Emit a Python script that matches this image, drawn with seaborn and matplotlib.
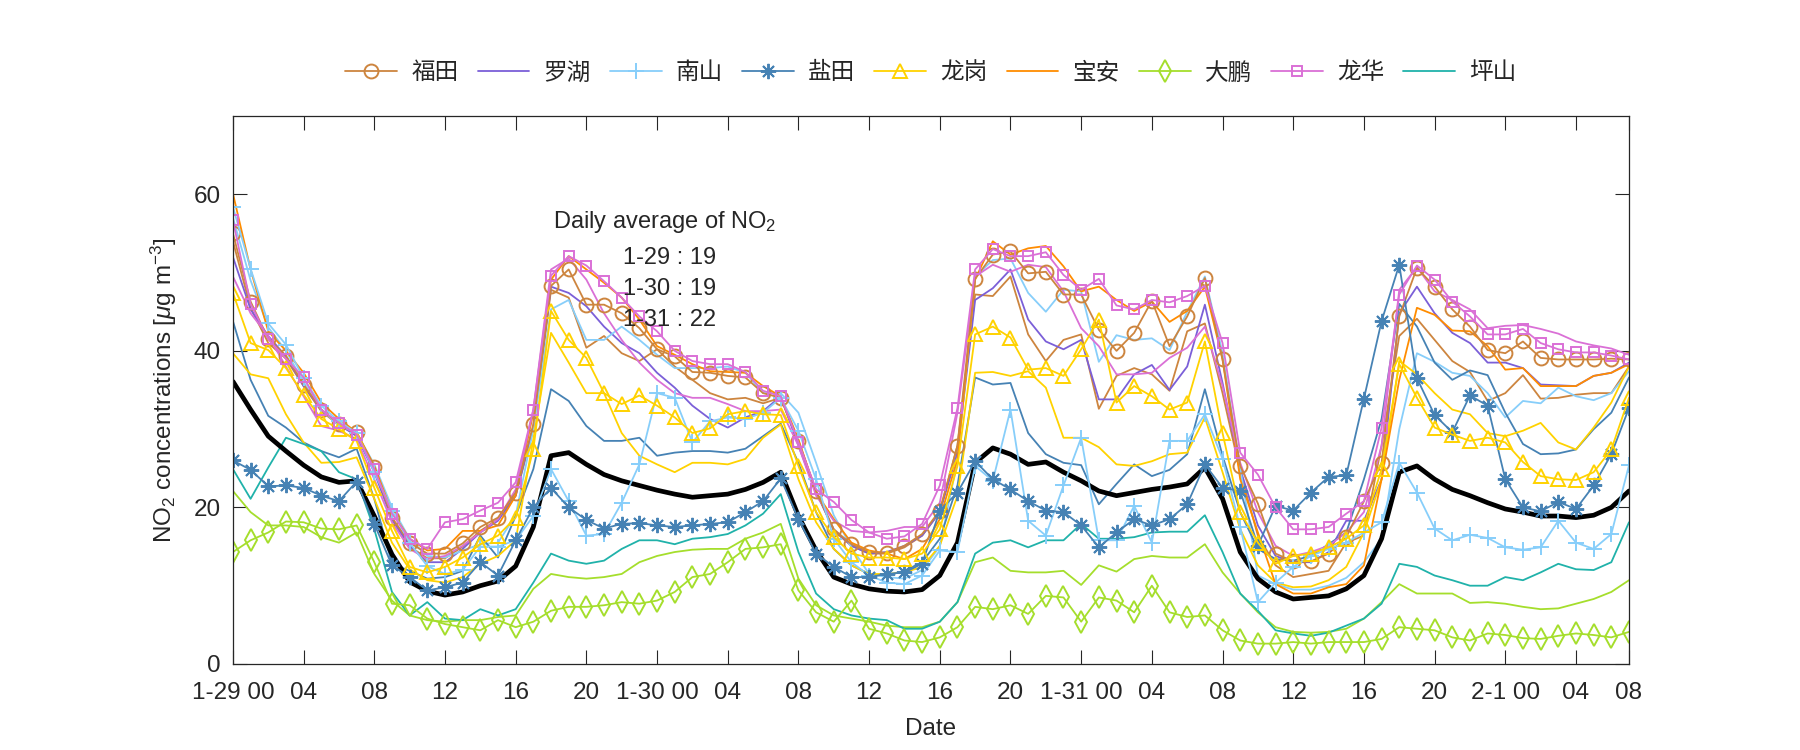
import numpy as np
import matplotlib
matplotlib.use("Agg")
import matplotlib.pyplot as plt
import seaborn as sns

# hourly NO2, 1-29 00:00 ... 2-1 07:00 (80 values each)
hours = list(range(80))

futian_1 = [55.0, 46.3, 41.5, 39.4, 35.7, 32.5, 30.7, 29.6, 25.1, 18.7,
            15.5, 14.1, 14.1, 15.4, 17.5, 18.7, 21.9, 30.6, 48.3, 50.4,
            45.9, 45.9, 44.8, 42.9, 40.2, 39.3, 37.3, 37.2, 36.8, 36.6,
            34.6, 34.0, 28.5, 22.1, 17.2, 15.3, 14.3, 14.2, 15.1, 16.6,
            19.6, 27.9, 49.2, 52.3, 52.7, 49.9, 50.1, 47.2, 47.2, 42.7,
            40.0, 42.3, 46.4, 40.6, 44.4, 49.3, 38.9, 25.3, 20.5, 14.1,
            13.1, 13.1, 14.1, 16.2, 20.8, 25.7, 44.4, 50.6, 48.2, 45.3,
            43.1, 40.1, 39.7, 41.2, 39.1, 38.9, 38.9, 38.9, 39.0, 38.9]
futian_2 = [54.0, 45.5, 41.0, 39.0, 35.5, 32.3, 30.5, 29.3, 24.8, 18.5,
            15.0, 13.5, 13.5, 15.0, 17.0, 18.5, 21.5, 30.0, 47.8, 46.8,
            40.4, 41.9, 39.7, 38.7, 40.2, 38.0, 36.3, 34.6, 33.8, 34.0,
            33.3, 34.0, 28.3, 22.1, 17.0, 15.1, 14.1, 14.1, 14.9, 16.4,
            19.4, 27.9, 47.2, 47.0, 49.5, 42.1, 38.7, 41.4, 42.1, 32.6,
            36.8, 37.8, 37.0, 34.9, 42.5, 43.5, 34.6, 24.5, 16.4, 12.6,
            11.1, 11.5, 11.9, 15.5, 16.4, 27.9, 41.9, 44.1, 41.4, 38.7,
            37.3, 33.6, 34.6, 36.9, 33.9, 34.0, 34.4, 34.6, 34.6, 38.0]
luohu = [52.0, 45.3, 41.9, 39.3, 35.5, 32.5, 30.6, 29.1, 24.5, 18.5,
         15.1, 13.0, 13.0, 14.7, 16.8, 18.3, 21.5, 30.4, 48.2, 47.4,
         45.7, 43.1, 41.0, 39.7, 37.2, 35.3, 33.0, 31.3, 30.2, 31.5,
         32.3, 34.2, 27.9, 21.9, 17.2, 15.1, 14.1, 14.3, 15.1, 16.4,
         19.4, 27.0, 46.5, 48.0, 50.4, 44.0, 41.2, 40.2, 41.4, 33.8,
         33.8, 37.0, 38.2, 35.0, 38.0, 45.9, 35.9, 24.9, 17.7, 13.8,
         13.0, 13.0, 14.3, 18.3, 18.3, 23.6, 44.8, 48.2, 44.8, 42.3,
         41.0, 38.5, 38.5, 37.8, 35.7, 35.6, 35.5, 36.8, 37.2, 38.5]
nanshan_1 = [58.4, 50.5, 43.5, 40.8, 36.5, 33.0, 31.0, 29.5, 24.5, 19.6,
             15.5, 12.5, 11.5, 12.0, 15.0, 15.0, 15.8, 18.9, 24.9, 20.8,
             16.4, 16.6, 20.6, 25.5, 34.6, 34.0, 28.3, 31.0, 31.5, 31.3,
             32.1, 34.0, 29.8, 23.6, 16.0, 13.0, 11.3, 10.4, 10.2, 11.3,
             14.5, 14.3, 25.3, 23.4, 32.5, 18.3, 16.4, 22.8, 28.9, 15.8,
             15.8, 20.2, 15.5, 28.5, 28.5, 31.9, 26.2, 17.5, 7.9, 10.4,
             12.4, 13.8, 14.7, 15.5, 16.8, 18.1, 25.7, 21.9, 17.3, 15.8,
             16.5, 16.1, 14.9, 14.6, 14.9, 18.3, 15.5, 14.7, 16.6, 25.4]
nanshan_2 = [57.0, 49.0, 43.0, 40.0, 36.0, 32.5, 30.5, 29.5, 25.5, 20.0,
             16.0, 13.8, 13.6, 14.5, 15.3, 15.5, 19.0, 30.0, 45.3, 46.5,
             41.4, 41.4, 43.1, 41.4, 39.5, 37.8, 37.8, 37.8, 38.0, 37.2,
             34.6, 34.6, 32.1, 25.7, 19.0, 14.9, 11.5, 11.1, 10.9, 12.0,
             15.0, 26.0, 49.5, 51.6, 51.8, 47.4, 45.0, 47.8, 47.6, 38.6,
             42.0, 41.4, 41.6, 40.1, 45.0, 49.5, 39.7, 25.0, 11.3, 10.2,
             9.5, 9.5, 10.0, 11.0, 13.0, 16.0, 30.0, 39.7, 38.6, 37.2,
             36.8, 34.6, 31.5, 33.6, 33.3, 35.3, 34.2, 33.7, 34.6, 37.4]
yantian_1 = [26.0, 24.8, 22.7, 22.8, 22.5, 21.5, 20.8, 23.3, 17.9, 12.6,
             11.1, 9.4, 9.8, 10.4, 13.0, 11.3, 15.8, 20.0, 22.5, 20.0,
             18.4, 17.3, 17.9, 18.0, 17.7, 17.5, 17.7, 17.9, 18.1, 19.4,
             20.8, 23.7, 18.5, 14.1, 12.4, 11.1, 11.1, 11.5, 11.7, 12.8,
             19.6, 21.9, 25.9, 23.6, 22.3, 20.8, 19.6, 19.4, 17.7, 14.9,
             16.8, 18.5, 17.7, 18.5, 20.4, 25.5, 22.5, 22.1, 15.1, 20.2,
             19.6, 21.9, 23.9, 24.1, 33.9, 43.8, 51.0, 36.5, 31.8, 29.6,
             34.3, 33.0, 23.6, 20.0, 19.5, 20.7, 19.8, 22.8, 26.8, 32.7]
yantian_2 = [43.8, 36.3, 31.7, 30.2, 28.3, 27.2, 26.4, 27.5, 21.1, 12.8,
             11.9, 10.9, 11.1, 11.9, 16.4, 13.6, 18.9, 24.9, 35.1, 33.6,
             30.4, 28.5, 28.5, 28.9, 26.6, 27.0, 27.2, 27.2, 27.0, 27.5,
             29.1, 30.7, 25.7, 19.4, 14.7, 12.6, 11.5, 11.3, 11.9, 13.0,
             16.0, 22.8, 36.6, 35.7, 35.9, 29.5, 26.8, 25.7, 25.4, 20.4,
             23.0, 25.5, 24.0, 24.8, 26.8, 35.1, 26.6, 19.4, 14.7, 13.4,
             13.2, 13.8, 15.3, 16.8, 23.6, 31.3, 46.0, 43.1, 38.5, 36.3,
             37.5, 36.9, 32.1, 28.1, 26.8, 26.9, 27.4, 30.0, 32.1, 36.6]
longgang_1 = [47.4, 41.0, 40.1, 37.8, 34.4, 31.3, 30.0, 28.5, 22.5, 17.0,
              12.4, 11.7, 12.4, 13.6, 15.3, 16.4, 18.7, 27.4, 45.1, 41.4,
              39.1, 34.6, 33.2, 34.3, 33.0, 31.5, 29.5, 30.1, 31.9, 32.3,
              31.9, 31.8, 25.3, 19.4, 16.2, 14.1, 13.6, 13.6, 13.4, 14.1,
              17.2, 25.3, 42.1, 43.1, 41.7, 37.6, 37.8, 36.8, 40.2, 44.0,
              33.4, 35.5, 34.2, 32.5, 33.4, 41.2, 29.5, 19.4, 15.5, 12.8,
              13.8, 14.1, 14.9, 16.0, 17.7, 24.9, 38.3, 34.0, 30.2, 29.3,
              28.5, 28.9, 28.3, 25.8, 24.0, 23.6, 23.5, 24.5, 27.4, 34.0]
longgang_2 = [39.7, 37.0, 36.5, 31.9, 28.3, 25.7, 25.8, 26.4, 21.1, 15.5,
              12.1, 10.7, 10.4, 11.1, 12.8, 13.8, 15.8, 28.7, 42.3, 38.5,
              34.6, 34.6, 29.5, 26.6, 25.5, 24.5, 25.7, 25.7, 25.5, 26.2,
              28.9, 30.6, 23.6, 18.1, 14.7, 12.6, 11.5, 11.5, 11.7, 12.4,
              15.1, 21.5, 37.2, 37.3, 36.8, 37.4, 35.3, 28.9, 28.9, 27.7,
              25.5, 25.3, 25.9, 26.8, 27.0, 31.5, 24.5, 17.2, 12.6, 10.4,
              9.8, 9.9, 10.7, 12.4, 16.8, 23.6, 38.7, 37.0, 34.6, 32.5,
              31.9, 29.5, 29.1, 29.8, 30.8, 28.3, 27.4, 30.2, 33.4, 38.0]
baoan = [60.1, 50.4, 42.5, 40.0, 37.2, 33.4, 31.3, 29.6, 25.3, 19.4,
         16.0, 14.5, 14.7, 17.0, 17.0, 17.7, 21.5, 32.1, 49.1, 52.1,
         50.4, 48.7, 46.8, 44.0, 40.6, 39.5, 38.3, 37.4, 37.3, 37.2,
         35.5, 34.2, 28.7, 21.9, 18.5, 15.5, 14.5, 14.1, 13.4, 14.7,
         18.5, 26.2, 49.1, 54.0, 52.3, 53.1, 53.4, 50.8, 47.6, 48.2,
         46.5, 45.1, 46.3, 43.7, 45.1, 48.2, 38.9, 23.6, 16.8, 10.2,
         9.0, 9.0, 9.8, 10.2, 12.6, 23.6, 36.3, 45.5, 44.6, 42.6,
         42.5, 40.6, 37.6, 37.8, 35.5, 35.5, 35.5, 36.8, 37.2, 38.3]
dapeng_1 = [14.3, 15.8, 16.8, 18.2, 18.1, 17.3, 17.2, 17.7, 13.0, 7.7,
            7.5, 5.8, 5.1, 4.7, 4.3, 5.6, 4.7, 5.4, 6.8, 7.3,
            7.3, 7.5, 7.9, 7.7, 8.1, 9.2, 11.1, 11.5, 13.0, 14.7,
            14.9, 15.3, 9.4, 6.6, 5.4, 8.1, 4.5, 3.9, 3.0, 2.8,
            3.4, 4.7, 7.3, 7.0, 7.5, 6.4, 8.7, 8.5, 5.4, 8.5,
            8.1, 6.6, 10.0, 6.6, 6.0, 6.2, 4.3, 3.0, 2.6, 2.6,
            2.8, 2.6, 2.8, 2.8, 2.8, 3.2, 4.7, 4.5, 4.3, 3.4,
            3.0, 3.9, 3.7, 3.3, 3.2, 3.6, 3.9, 3.7, 3.4, 4.1]
dapeng_2 = [22.1, 19.4, 17.7, 17.7, 17.5, 16.2, 15.5, 16.8, 11.5, 8.1,
            6.2, 5.6, 5.4, 5.6, 5.6, 6.0, 6.2, 9.6, 11.5, 11.1,
            10.9, 11.1, 11.5, 13.0, 13.8, 14.3, 14.6, 14.7, 14.7, 16.0,
            16.8, 17.9, 10.9, 7.5, 6.2, 5.8, 5.4, 4.9, 4.7, 4.7,
            5.4, 7.9, 13.0, 13.6, 11.9, 11.7, 11.7, 11.9, 10.1, 12.6,
            11.8, 13.4, 13.8, 13.6, 13.6, 15.3, 11.7, 9.0, 6.6, 4.7,
            4.1, 4.0, 4.1, 4.5, 5.8, 7.9, 10.2, 9.0, 9.0, 9.0,
            7.8, 7.9, 7.7, 7.3, 7.0, 7.1, 7.7, 8.3, 9.2, 10.7]
longhua_1 = [56.7, 46.0, 41.5, 39.0, 36.6, 32.5, 30.8, 29.3, 24.9, 19.2,
             16.0, 14.7, 18.1, 18.5, 19.6, 20.6, 23.2, 32.5, 49.6, 52.1,
             50.9, 48.9, 46.8, 44.4, 42.5, 40.0, 38.7, 38.3, 38.3, 37.3,
             34.9, 34.2, 28.3, 22.3, 20.7, 18.4, 16.8, 16.0, 16.3, 17.9,
             22.8, 32.7, 50.4, 53.0, 52.1, 52.1, 52.6, 49.7, 47.8, 49.2,
             45.8, 45.3, 46.5, 46.2, 47.0, 48.3, 41.0, 27.0, 24.2, 20.0,
             17.2, 17.2, 17.5, 19.2, 20.8, 30.2, 47.2, 50.9, 49.1, 46.3,
             44.4, 42.1, 42.1, 42.8, 41.0, 40.2, 39.8, 39.8, 39.4, 38.9]
longhua_2 = [49.5, 44.8, 41.9, 38.0, 34.2, 30.4, 29.8, 28.7, 23.6, 18.1,
             14.7, 13.4, 13.8, 15.1, 16.8, 18.5, 22.3, 32.5, 50.4, 51.8,
             49.1, 44.8, 41.4, 38.5, 36.3, 34.6, 34.0, 34.0, 33.2, 32.3,
             32.3, 32.5, 27.9, 21.5, 18.3, 17.0, 16.8, 17.0, 17.5, 17.5,
             20.6, 32.1, 49.5, 51.0, 50.1, 51.0, 50.7, 47.6, 42.9, 40.6,
             37.0, 37.0, 37.2, 39.1, 40.4, 43.1, 35.5, 25.7, 19.4, 15.1,
             13.8, 14.3, 15.1, 16.8, 19.4, 27.9, 47.8, 50.7, 47.6, 46.5,
             45.3, 42.9, 43.2, 43.3, 42.8, 42.2, 41.2, 40.7, 40.3, 39.5]
pingshan = [24.9, 21.1, 25.1, 28.9, 28.1, 27.2, 24.5, 23.6, 17.2, 9.2,
            6.2, 7.9, 5.8, 5.6, 7.0, 6.2, 7.0, 10.4, 14.1, 13.2,
            12.8, 13.2, 14.7, 15.8, 15.8, 15.3, 16.0, 16.2, 16.6, 17.7,
            19.2, 21.7, 14.3, 9.0, 7.0, 6.2, 5.8, 5.6, 4.5, 4.5,
            5.4, 7.9, 14.1, 15.5, 15.8, 14.9, 15.8, 15.8, 17.9, 16.0,
            16.0, 16.2, 16.8, 16.9, 16.9, 19.0, 14.3, 9.0, 6.8, 4.3,
            3.9, 3.6, 4.0, 4.9, 5.8, 7.7, 12.8, 12.4, 11.3, 10.7,
            10.0, 10.0, 11.1, 10.7, 11.7, 12.8, 12.1, 12.0, 13.0, 18.1]
average = [36.1, 32.5, 29.1, 27.2, 25.4, 23.9, 23.2, 23.4, 18.9, 14.0,
           10.5, 9.3, 8.8, 9.2, 10.0, 10.6, 12.5, 17.5, 26.6, 27.0,
           25.5, 24.2, 23.4, 22.8, 22.2, 21.7, 21.3, 21.5, 21.7, 22.3,
           23.2, 24.5, 18.9, 14.5, 11.1, 10.2, 9.6, 9.3, 9.2, 9.5,
           11.3, 15.5, 25.7, 27.6, 26.8, 25.5, 25.8, 24.5, 23.4, 22.1,
           21.5, 21.9, 22.3, 22.6, 23.0, 25.1, 21.1, 14.3, 10.9, 9.2,
           8.3, 8.5, 8.7, 9.6, 11.3, 16.0, 24.5, 25.3, 23.6, 22.3,
           21.5, 20.6, 19.8, 19.4, 18.9, 18.9, 18.7, 19.0, 20.0, 22.1]

tick_pos = [0, 4, 8, 12, 16, 20, 24, 28, 32, 36, 40, 44, 48, 52, 56, 60,
            64, 68, 72, 76, 79]
tick_labels = ["1-29 00", "04", "08", "12", "16", "20", "1-30 00", "04", "08",
               "12", "16", "20", "1-31 00", "04", "08", "12", "16", "20",
               "2-1 00", "04", "08"]
daily_mean = [("1-29", 19), ("1-30", 19), ("1-31", 22)]

sns.set_style("ticks")
plt.rcParams["font.family"] = ["Liberation Sans", "Noto Sans CJK SC", "DejaVu Sans"]
plt.rcParams["mathtext.fontset"] = "custom"
plt.rcParams["mathtext.rm"] = "Liberation Sans"
plt.rcParams["mathtext.it"] = "Liberation Sans:italic"

fig = plt.figure(figsize=(18, 7.5), dpi=100)
ax = fig.add_axes([0.1294, 0.1147, 0.7756, 0.7306])

# (values, colour, marker, legend label)
series = [
    (futian_2, "#CD853F", None, None),
    (luohu, "#7B5FD8", None, "罗湖"),
    (nanshan_2, "#87CEFA", None, None),
    (yantian_2, "#4682B4", None, None),
    (longgang_2, "#FFD200", None, None),
    (baoan, "#FF8C00", None, "宝安"),
    (dapeng_2, "#A5DE2C", None, None),
    (longhua_2, "#DA70D6", None, None),
    (pingshan, "#20B2AA", None, "坪山"),
    (average, "black", None, None),
    (futian_1, "#CD853F", "o", "福田"),
    (nanshan_1, "#87CEFA", "+", "南山"),
    (yantian_1, "#4682B4", (8, 2, 0), "盐田"),
    (longgang_1, "#FFD200", "^", "龙岗"),
    (dapeng_1, "#A5DE2C", "d", "大鹏"),
    (longhua_1, "#DA70D6", "s", "龙华"),
]
msizes = {"o": 10, "+": 11, "^": 10, "d": 11, "s": 7}

handles = {}
for vals, col, mk, lab in series:
    kw = dict(x=hours, y=vals, color=col, ax=ax, linewidth=1.3, legend=False)
    if vals is average:
        kw["linewidth"] = 3.4
    if mk is not None:
        kw.update(marker=mk, markersize=msizes.get(mk, 11), markerfacecolor="none",
                  markeredgecolor=col, markeredgewidth=1.4)
    sns.lineplot(**kw)
    if lab is not None:
        handles[lab] = ax.lines[-1]

order = ["福田", "罗湖", "南山", "盐田", "龙岗", "宝安", "大鹏", "龙华", "坪山"]
ax.legend([handles[k] for k in order], order, ncol=9, loc="center",
          bbox_to_anchor=(0.5, 1.078), frameon=False, fontsize=17,
          handlelength=2.2, columnspacing=0.8, handletextpad=0.6)

ax.text(18.1, 56.4, "Daily average of NO$_2$", fontsize=17, va="center")
for i, (day, val) in enumerate(daily_mean):
    ax.text(22.1, 51.9 - 4.0 * i, f"{day} : {val}", fontsize=17, va="center")

ax.set_xlim(0, 79)
ax.set_ylim(0, 70)
ax.set_xticks(tick_pos)
ax.set_xticklabels(tick_labels)
ax.set_yticks([0, 20, 40, 60])
ax.tick_params(direction="in", length=10, width=0.8, labelsize=17.5,
               top=True, right=True, colors="#262626")
ax.tick_params(axis="x", pad=13)
ax.tick_params(axis="y", pad=9)
for s in ax.spines.values():
    s.set_visible(True)
    s.set_color("#262626")
    s.set_linewidth(0.9)
ax.set_xlabel("Date", fontsize=17.5, color="#262626", labelpad=10)
ax.set_ylabel("NO$_2$ concentrations [$\\mu$g m$^{-3}$]", fontsize=17.5,
              color="#262626", labelpad=10)

fig.savefig("out.png", dpi=100)
